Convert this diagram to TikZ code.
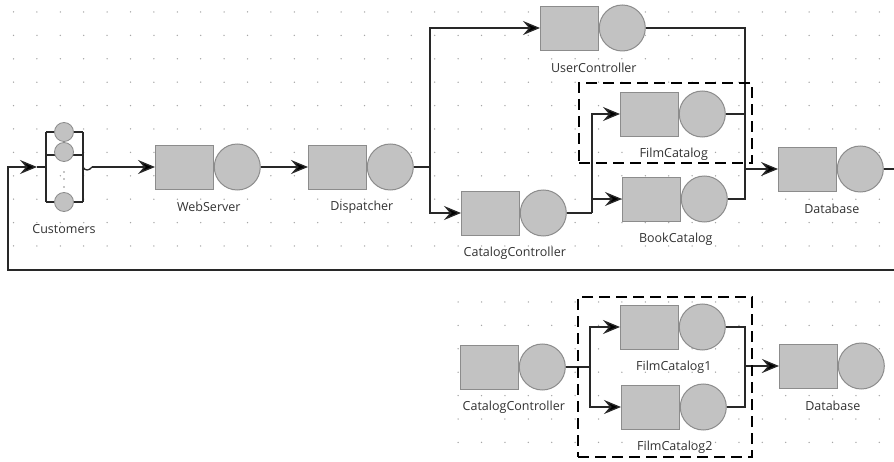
\documentclass[tikz,border=0pt]{standalone}
\usepackage{fontspec}
\setmainfont{Open Sans}
\usetikzlibrary{arrows.meta,calc}
\definecolor{boxfill}{RGB}{194,194,194}
\definecolor{boxedge}{RGB}{140,140,140}
\definecolor{wirec}{RGB}{40,40,40}
\definecolor{dotc}{RGB}{165,165,165}
\definecolor{txtc}{RGB}{50,50,50}
\tikzset{
  qbox/.style={rectangle, draw=boxedge, line width=0.8pt, fill=boxfill, minimum width=58pt, minimum height=44pt, inner sep=0pt},
  srv/.style={circle, draw=boxedge, line width=1pt, fill=boxfill, minimum size=46pt, inner sep=0pt},
  csrv/.style={circle, draw=boxedge, line width=0.8pt, fill=boxfill, minimum size=19pt, inner sep=0pt},
  lbl/.style={text=txtc, font=\fontsize{12.5}{14}\selectfont, inner sep=0pt},
  wire/.style={draw=wirec, line width=1.3pt},
  arr/.style={wire, -{Stealth[length=17pt,width=14pt,inset=6pt,fill=black]}},
  dbox/.style={draw=black, line width=2.5pt, dash pattern=on 11pt off 6pt, inner sep=0pt},
}
\newcommand\station[4]{%
  \node[qbox, anchor=west] (#1-q) at (#2,#3) {};
  \node[srv, anchor=west] (#1-s) at (#1-q.east) {};
  \node[lbl] (#1-l) at ($(#1-q.east)+(-5,40)$) {#4};
}
\begin{document}
\begin{tikzpicture}[x=1pt,y=-1pt]
\useasboundingbox (0,0) rectangle (894,462);
\fill[white] (0,0) rectangle (894,462);
% dot grids
\foreach \i in {0,...,37}{\foreach \j in {0,...,10}{\fill[dotc] (13.5+23.4*\i,12+23.4*\j) circle (0.75pt);}}
\foreach \i in {19,...,37}{\foreach \j in {0,...,6}{\fill[dotc] (13.5+23.4*\i,302+23.4*\j) circle (0.75pt);}}

% Customers
\draw[wire, line width=1.1pt] (46,132) -- (83,132) (46,155) -- (83,155) (46,202) -- (83,202)
  (46,132) -- (46,202) (83,132) -- (83,202);
\node[csrv] (cust1) at (64,132) {};
\node[csrv] (cust2) at (64,152) {};
\node[csrv] (cust3) at (64,202) {};
\foreach \yy in {172,179,187}{\fill[boxedge] (64,\yy) circle (0.9pt);}
\node[lbl] (cust-l) at (64,229) {Customers};
\coordinate (cust-in) at (37,167);
\coordinate (cust-inb) at (46,167);
\coordinate (cust-outb) at (83,167);
\coordinate (cust-out) at (92,167);
\draw[wire] (cust-in) -- (cust-inb);
\draw[wire] (cust-outb) .. controls (85,171) and (89,171) .. (cust-out);

% stations
\station{ws}{155}{167}{WebServer}
\station{ds}{308}{167}{Dispatcher}
\station{uc}{540}{28}{UserController}
\station{fc}{620}{114}{FilmCatalog}
\station{bc}{622}{199}{BookCatalog}
\station{cc}{461}{213}{CatalogController}
\station{db}{778}{169}{Database}
\station{cct}{460}{367}{CatalogController}
\station{fca}{620}{327}{FilmCatalog1}
\station{fcb}{621}{407}{FilmCatalog2}
\station{dbt}{779}{366}{Database}

% top connectors
\draw[arr] (cust-out) -- (ws-q.west);
\draw[arr] (ws-s.east) -- (ds-q.west);
\coordinate (j1) at (430,167);
\draw[wire] (ds-s.east) -- (j1);
\draw[arr] (j1) |- (uc-q.west);
\draw[arr] (j1) |- (cc-q.west);
\coordinate (j2) at (592,213);
\draw[wire] (cc-s.east) -- (j2);
\draw[arr] (j2) |- (fc-q.west);
\draw[arr] (j2) |- (bc-q.west);
\coordinate (m1) at (745,169);
\draw[wire] (uc-s.east) -| (m1);
\draw[wire] (fc-s.east) -| (m1);
\draw[wire] (bc-s.east) -| (m1);
\draw[arr] (m1) -- (db-q.west);
\coordinate (dbout) at (894,169);
\draw[wire] (db-s.east) -- (dbout);
\coordinate (fbR) at (894,270);
\coordinate (fbL) at (8,270);
\draw[arr] (fbR) -- (fbL) |- (cust-in);

% bottom connectors
\coordinate (j3) at (590,367);
\draw[wire] (cct-s.east) -- (j3);
\draw[arr] (j3) |- (fca-q.west);
\draw[arr] (j3) |- (fcb-q.west);
\coordinate (m2) at (745,366);
\draw[wire] (fca-s.east) -| (m2);
\draw[wire] (fcb-s.east) -| (m2);
\draw[arr] (m2) -- (dbt-q.west);

% dashed groups
\node[dbox, minimum width=173pt, minimum height=80pt] (g1) at (665.5,123) {};
\node[dbox, minimum width=174pt, minimum height=160pt] (g2) at (665,377) {};
\end{tikzpicture}
\end{document}
